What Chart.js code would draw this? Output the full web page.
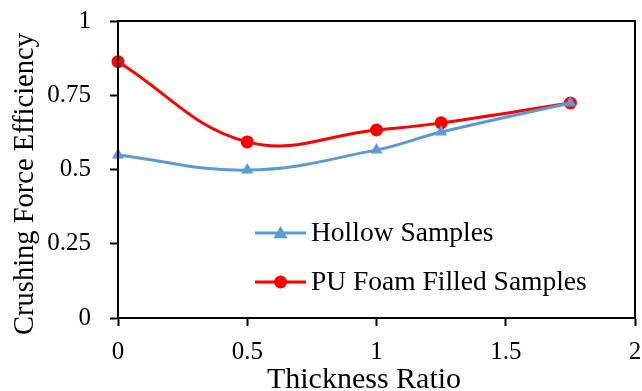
<!DOCTYPE html>
<html>
<head>
<meta charset="utf-8">
<script src="https://cdn.jsdelivr.net/npm/chart.js@4.4.1/dist/chart.umd.min.js"></script>
<style>
  html, body { margin: 0; padding: 0; background: #fff; }
  #wrap { width: 642px; height: 391px; }
</style>
</head>
<body>
<div id="wrap"><canvas id="chart" width="642" height="391"></canvas></div>
<script>
// Datos
const thicknessRatio = [0, 0.5, 1, 1.25, 1.75];
const hollowValues = [0.549, 0.498, 0.566, 0.626, 0.724];
const foamValues = [0.863, 0.593, 0.633, 0.657, 0.724];
const xTicks = [0, 0.5, 1, 1.5, 2];
const yTicks = [0, 0.25, 0.5, 0.75, 1];
const xTitle = 'Thickness Ratio';
const yTitle = 'Crushing Force Efficiency';

const colors = {
    hollow: '#5B9BD5',
    foam: '#FF0000',
    axis: '#000000'
};

const serif = '"Liberation Serif", "Times New Roman", serif';

function toPoints(xs, ys) {
    return xs.map((x, i) => ({ x: x, y: ys[i] }));
}

// Marco, títulos de ejes y leyenda interior
const framePlugin = {
    id: 'frame',
    afterDraw(chart) {
        const ctx = chart.ctx;
        const a = chart.chartArea;
        ctx.save();
        ctx.strokeStyle = colors.axis;
        ctx.lineWidth = 2;
        ctx.strokeRect(a.left, a.top, a.right - a.left, a.bottom - a.top);

        // títulos
        ctx.fillStyle = '#000';
        ctx.textAlign = 'center';
        ctx.textBaseline = 'alphabetic';
        ctx.font = '30px ' + serif;
        ctx.fillText(xTitle, a.left + 246, 388);
        ctx.save();
        ctx.translate(33, a.top + 163);
        ctx.rotate(-Math.PI / 2);
        ctx.font = '28.5px ' + serif;
        ctx.fillText(yTitle, 0, 0);
        ctx.restore();

        // leyenda
        const x0 = a.left + 137;
        const rows = [a.top + 212, a.top + 261];
        chart.data.datasets.forEach((ds, i) => {
            const y = rows[i];
            const cx = x0 + 25.5;
            ctx.strokeStyle = ds.borderColor;
            ctx.lineWidth = 3;
            ctx.beginPath();
            ctx.moveTo(x0, y);
            ctx.lineTo(x0 + 51, y);
            ctx.stroke();
            ctx.fillStyle = ds.backgroundColor;
            ctx.beginPath();
            const r = ds.pointRadius;
            if (ds.pointStyle === 'circle') {
                ctx.arc(cx, y, r, 0, Math.PI * 2);
            } else {
                ctx.moveTo(cx, y - r);
                ctx.lineTo(cx + r, y + r * 0.75);
                ctx.lineTo(cx - r, y + r * 0.75);
                ctx.closePath();
            }
            ctx.fill();
            ctx.fillStyle = '#000';
            ctx.textAlign = 'left';
            ctx.font = '27.5px ' + serif;
            ctx.textBaseline = 'middle';
            ctx.fillText(ds.label, x0 + 56, y + 1);
        });
        ctx.restore();
    }
};

new Chart(document.getElementById('chart').getContext('2d'), {
    type: 'line',
    data: {
        datasets: [
            {
                label: 'Hollow Samples',
                data: toPoints(thicknessRatio, hollowValues),
                borderColor: colors.hollow,
                backgroundColor: colors.hollow,
                borderWidth: 3,
                pointStyle: 'triangle',
                pointRadius: 7,
                pointBorderWidth: 0,
                tension: 0.4,
                clip: false
            },
            {
                label: 'PU Foam Filled Samples',
                data: toPoints(thicknessRatio, foamValues),
                borderColor: colors.foam,
                backgroundColor: colors.foam,
                borderWidth: 3,
                pointStyle: 'circle',
                pointRadius: 6.5,
                pointBorderWidth: 0,
                tension: 0.4,
                clip: false
            }
        ]
    },
    options: {
        responsive: false,
        animation: false,
        layout: { padding: { top: 21, right: 5, left: 0, bottom: 0 } },
        plugins: {
            legend: { display: false },
            tooltip: { enabled: false }
        },
        scales: {
            x: {
                type: 'linear',
                min: 0,
                max: 2,
                afterBuildTicks(scale) {
                    scale.ticks = xTicks.map(v => ({ value: v }));
                },
                afterFit(scale) {
                    scale.height = 73;
                    scale.paddingLeft = 0;
                    scale.paddingRight = 0;
                },
                grid: {
                    drawOnChartArea: false,
                    tickLength: 8,
                    tickWidth: 2,
                    tickColor: colors.axis
                },
                border: { display: true, color: colors.axis, width: 2 },
                ticks: {
                    color: '#000',
                    padding: 11,
                    maxRotation: 0,
                    font: { family: serif, size: 25 },
                    callback: v => String(v)
                }
            },
            y: {
                type: 'linear',
                min: 0,
                max: 1,
                afterBuildTicks(scale) {
                    scale.ticks = yTicks.map(v => ({ value: v }));
                },
                afterFit(scale) {
                    scale.width = 118;
                    scale.paddingTop = 0;
                    scale.paddingBottom = 0;
                },
                grid: {
                    drawOnChartArea: false,
                    tickLength: 8,
                    tickWidth: 2,
                    tickColor: colors.axis
                },
                border: { display: true, color: colors.axis, width: 2 },
                ticks: {
                    color: '#000',
                    padding: 19,
                    font: { family: serif, size: 25 },
                    callback: v => String(v)
                }
            }
        }
    },
    plugins: [framePlugin]
});
</script>
</body>
</html>
